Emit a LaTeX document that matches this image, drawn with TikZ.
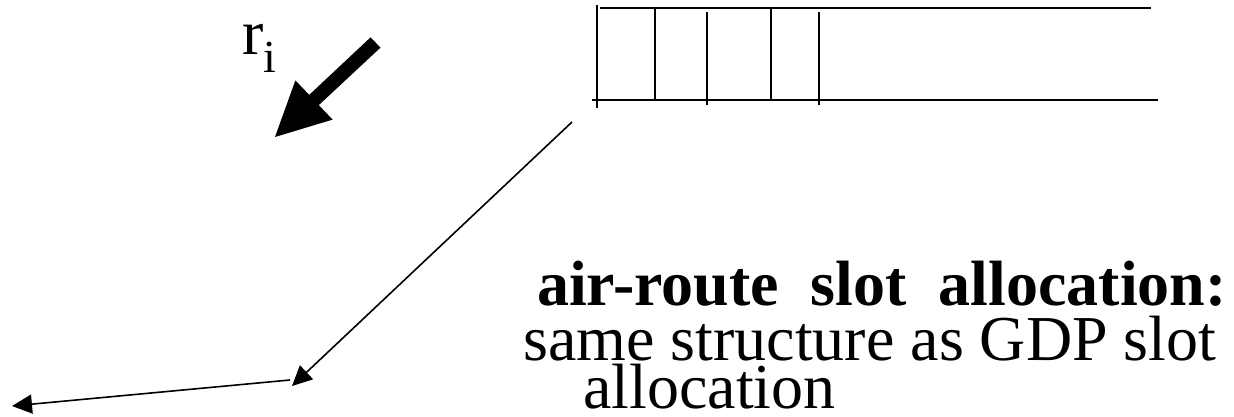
\documentclass[tikz,border=0pt]{standalone}
\usepackage{fontspec}
\setmainfont{Liberation Serif}
\usetikzlibrary{arrows.meta}
\begin{document}
\begin{tikzpicture}[x=1pt,y=-1pt,
  thin line/.style={line width=1.6pt},
  conn/.style={line width=1.6pt,-{Triangle[length=20pt,width=19pt]}},
  txt/.style={anchor=base west,inner sep=0pt,text height=44pt,text depth=0pt,
    font=\fontsize{64}{64}\selectfont}]
\useasboundingbox (0,0) rectangle (1234,417);
% slot table
\coordinate (tl) at (600,8);
\coordinate (tr) at (1151,8);
\coordinate (bl) at (592,100);
\coordinate (br) at (1158,100);
\draw[thin line] (tl) -- (tr);
\draw[thin line] (bl) -- (br);
\coordinate (v1a) at (597,5);   \coordinate (v1b) at (597,108);
\coordinate (v2a) at (655,8);   \coordinate (v2b) at (655,100);
\coordinate (v3a) at (707,12);  \coordinate (v3b) at (707,105);
\coordinate (v4a) at (771,8);   \coordinate (v4b) at (771,100);
\coordinate (v5a) at (819,12);  \coordinate (v5b) at (819,105);
\foreach \v in {1,...,5} \draw[thin line] (v\v a) -- (v\v b);
% r_i label and thick arrow
\node[txt,text height=40pt] (ri) at (242,55) {r\raisebox{-18pt}{\fontsize{46}{46}\selectfont i}};
\fill (380.5,47.6) -- (370.5,37.4) -- (309.2,94.9) -- (295.4,80.4) -- (275,137)
  -- (332.6,119.6) -- (318.8,105.1) -- cycle;
% connectors
\coordinate (a0) at (572,122);
\coordinate (a1) at (292,386);
\coordinate (a2) at (290,380);
\coordinate (a3) at (12,406);
\draw[conn] (a0) -- (a1);
\draw[conn] (a2) -- (a3);
% text
\node[txt,font=\fontsize{64}{64}\selectfont\bfseries] (t1) at (537,305) {air-route\ \ slot\ \ allocation:};
\node[txt] (t2) at (523,360) {same structure as GDP slot};
\node[txt] (t3) at (583,408) {allocation};
\end{tikzpicture}
\end{document}
